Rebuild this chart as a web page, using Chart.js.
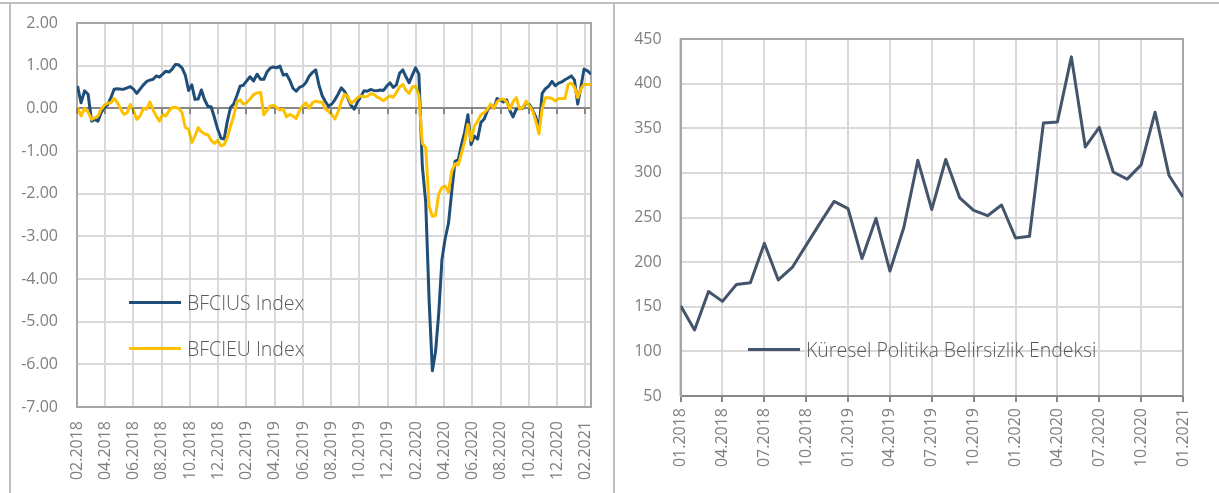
<!DOCTYPE html>
<html><head><meta charset="utf-8">
<script src="https://cdn.jsdelivr.net/npm/chart.js@4.4.1/dist/chart.umd.min.js"></script>
<style>
html,body{margin:0;padding:0;background:#fff;}
body{width:1219px;height:493px;position:relative;overflow:hidden;font-family:"Open Sans",sans-serif;}
.fr{position:absolute;background:#BFBFBF;}
.cv{position:absolute;}
.ov{mix-blend-mode:darken;pointer-events:none;}
.leg{position:absolute;display:flex;align-items:center;height:28px;color:#595959;font-weight:300;white-space:nowrap;font-size:19.5px;}
.leg i{display:inline-block;width:52px;height:3px;margin-right:6px;}
</style></head>
<body>
<div class="fr" style="left:0;top:2px;width:1219px;height:2px"></div>
<div class="fr" style="left:9px;top:2px;width:2px;height:491px"></div>
<div class="fr" style="left:613px;top:2px;width:2px;height:491px"></div>
<div class="cv" style="left:11px;top:5px;width:600px;height:488px"><canvas id="c1" width="600" height="488"></canvas></div>
<div class="cv ov" style="left:11px;top:5px;width:600px;height:488px"><canvas id="c1g" width="600" height="488"></canvas></div>
<div class="cv" style="left:616px;top:5px;width:603px;height:488px"><canvas id="c2" width="603" height="488"></canvas></div>
<div class="leg" style="left:129px;top:288px"><i style="background:#1F4E79"></i><span id="l1"></span></div>
<div class="leg" style="left:129px;top:334px"><i style="background:#FFC000"></i><span id="l2"></span></div>
<div class="leg" style="left:748px;top:335px"><i style="background:#44546A"></i><span id="l3"></span></div>
<script>
// ---------- Left chart data (weekly, first observation 2018-02-02) ----------
const seriesNames = ['BFCIUS Index', 'BFCIEU Index'];
const firstWeek = [2018, 2, 2];
const bfciusValues = [
 0.52, 0.13, 0.41, 0.33, -0.30, -0.26, -0.30, -0.10, 0.02, 0.08,
 0.25, 0.45, 0.46, 0.45, 0.45, 0.48, 0.51, 0.45, 0.35, 0.45,
 0.55, 0.63, 0.66, 0.68, 0.76, 0.73, 0.80, 0.87, 0.85, 0.92,
 1.03, 1.02, 0.95, 0.78, 0.42, 0.55, 0.21, 0.22, 0.43, 0.20,
 0.05, 0.03, -0.22, -0.49, -0.70, -0.72, -0.30, 0.02, 0.10, 0.30,
 0.52, 0.54, 0.64, 0.74, 0.64, 0.80, 0.68, 0.68, 0.85, 0.94,
 0.97, 0.95, 0.99, 0.78, 0.80, 0.66, 0.47, 0.40, 0.49, 0.52,
 0.60, 0.75, 0.84, 0.90, 0.55, 0.30, 0.16, 0.05, 0.10, 0.20,
 0.33, 0.48, 0.40, 0.25, 0.07, -0.02, 0.15, 0.28, 0.41, 0.40,
 0.44, 0.42, 0.41, 0.43, 0.42, 0.52, 0.60, 0.49, 0.55, 0.82,
 0.90, 0.74, 0.60, 0.78, 0.95, 0.80, -1.35, -2.20, -4.50, -6.15,
 -5.70, -4.80, -3.55, -3.05, -2.70, -1.95, -1.24, -1.20, -0.85, -0.55,
 -0.15, -0.85, -0.65, -0.72, -0.33, -0.25, -0.05, 0.08, 0.00, 0.23,
 0.20, 0.15, 0.20, -0.05, -0.20, -0.02, 0.00, 0.00, 0.13, 0.09,
 -0.04, -0.20, -0.50, 0.35, 0.46, 0.52, 0.63, 0.53, 0.59, 0.62,
 0.67, 0.71, 0.76, 0.66, 0.10, 0.50, 0.92, 0.88, 0.80
];
const bfcieuValues = [
 0.02, -0.18, 0.00, -0.09, -0.26, -0.22, -0.18, -0.02, 0.07, 0.12,
 0.13, 0.23, 0.13, -0.02, -0.14, -0.10, 0.09, -0.06, -0.26, -0.18,
 0.00, -0.02, 0.15, -0.04, -0.18, -0.30, -0.14, -0.18, -0.06, 0.02,
 0.02, 0.00, -0.10, -0.45, -0.49, -0.80, -0.65, -0.45, -0.55, -0.60,
 -0.62, -0.75, -0.82, -0.75, -0.88, -0.85, -0.68, -0.42, -0.18, 0.15,
 0.20, 0.10, 0.13, 0.22, 0.32, 0.36, 0.37, -0.15, -0.05, 0.05,
 0.07, 0.02, -0.04, -0.02, -0.20, -0.14, -0.18, -0.24, -0.06, 0.05,
 0.13, 0.00, 0.13, 0.17, 0.15, 0.15, -0.01, -0.07, -0.14, -0.25,
 -0.08, 0.15, 0.33, 0.28, 0.12, 0.17, 0.25, 0.29, 0.27, 0.28,
 0.34, 0.33, 0.27, 0.23, 0.18, 0.24, 0.29, 0.26, 0.37, 0.50,
 0.56, 0.42, 0.35, 0.50, 0.52, 0.30, -0.82, -0.92, -2.30, -2.53,
 -2.51, -2.00, -1.86, -1.82, -1.97, -1.47, -1.30, -1.33, -1.05, -0.78,
 -0.38, -0.75, -0.42, -0.30, -0.15, -0.10, -0.02, 0.10, 0.00, 0.15,
 0.21, 0.22, 0.15, -0.02, 0.15, 0.25, -0.02, 0.02, 0.17, 0.05,
 -0.06, -0.30, -0.60, 0.00, 0.25, 0.25, 0.23, 0.17, 0.23, 0.23,
 0.23, 0.56, 0.59, 0.50, 0.25, 0.45, 0.56, 0.56, 0.56
];
const leftTickLabels = ['02.2018','04.2018','06.2018','08.2018','10.2018','12.2018','02.2019','04.2019','06.2019','08.2019','10.2019','12.2019','02.2020','04.2020','06.2020','08.2020','10.2020','12.2020','02.2021'];
const leftYMin = -7, leftYMax = 2;

// ---------- Right chart data (monthly) ----------
const rightSeriesName = 'Küresel Politika Belirsizlik Endeksi';
const months = ['01.2018','02.2018','03.2018','04.2018','05.2018','06.2018','07.2018','08.2018','09.2018','10.2018','11.2018','12.2018',
 '01.2019','02.2019','03.2019','04.2019','05.2019','06.2019','07.2019','08.2019','09.2019','10.2019','11.2019','12.2019',
 '01.2020','02.2020','03.2020','04.2020','05.2020','06.2020','07.2020','08.2020','09.2020','10.2020','11.2020','12.2020','01.2021'];
const gepuValues = [151, 124, 167, 156, 175, 177, 221, 180, 194, 219, 244, 268,
 260, 204, 249, 190, 239, 314, 259, 315, 272, 258, 252, 264,
 227, 229, 356, 357, 430, 329, 351, 301, 293, 309, 368, 297, 273];

// ---------- helpers: x of the left chart = months elapsed since 02.2018 ----------
function monthsSinceStart(d) {
  const y = d.getUTCFullYear(), m = d.getUTCMonth();
  const dim = new Date(Date.UTC(y, m + 1, 0)).getUTCDate();
  return (y - 2018) * 12 + (m - 1) + (d.getUTCDate() - 1) / dim;
}
const weekX = bfciusValues.map((_, i) => monthsSinceStart(new Date(Date.UTC(firstWeek[0], firstWeek[1] - 1, firstWeek[2] + 7 * i))));
const lastX = weekX[weekX.length - 1];

document.getElementById('l1').textContent = seriesNames[0];
document.getElementById('l2').textContent = seriesNames[1];
document.getElementById('l3').textContent = rightSeriesName;

const TICK = '#7F7F7F';
const GRID = '#D9D9D9';
const FRAME = '#A6A6A6';
const AXIS = '#868686';
const CLEAR = 'rgba(0,0,0,0)';

// plot frame and zero line (horizontal parts), from the chart's scales
const framePlugin = {
  id: 'frame',
  beforeDatasetsDraw(chart, args, opts) {
    const { ctx, chartArea: a } = chart;
    ctx.save();
    if (opts.zeroLine) {
      const y0 = Math.round(chart.scales.y.getPixelForValue(0));
      ctx.fillStyle = AXIS;
      ctx.fillRect(a.left, y0 - 1, a.right - a.left, 2);
    }
    if (opts.zeroTicks) {
      const xs = chart.scales.x;
      const y0 = Math.round(chart.scales.y.getPixelForValue(0));
      ctx.fillStyle = AXIS;
      xs.ticks.forEach(t => { const px = Math.round(xs.getPixelForValue(t.value)); ctx.fillRect(px - 1, y0, 2, 6); });
    }
    if (opts.frame) {
      ctx.strokeStyle = FRAME; ctx.lineWidth = 2;
      ctx.beginPath();
      if (opts.bottom) { ctx.rect(a.left, a.top, a.right - a.left, a.bottom - a.top); }
      else { ctx.moveTo(a.left, a.bottom); ctx.lineTo(a.left, a.top); ctx.lineTo(a.right, a.top); ctx.lineTo(a.right, a.bottom); }
      ctx.stroke();
    }
    ctx.restore();
  }
};
const noPadX = s => { s.paddingLeft = 0; s.paddingRight = 0; };
const noPadY = s => { s.paddingTop = 0; s.paddingBottom = 0; };

Chart.defaults.font.family = '"Open Sans", sans-serif';
Chart.defaults.animation = false;

// shared left-chart scale setup (same layout for the data canvas and its grid overlay)
function leftScales(showLabels, xGrid, yGrid) {
  return {
    x: {
      type: 'linear', min: 0, max: lastX, position: 'bottom',
      afterFit: s => { s.height = 86; noPadX(s); },
      ticks: { stepSize: 2, includeBounds: false, autoSkip: false, minRotation: 90, maxRotation: 90,
        color: showLabels ? TICK : CLEAR, font: { size: 16 }, padding: 14,
        callback: v => leftTickLabels[Math.round(v / 2)] },
      grid: { display: xGrid, color: GRID, lineWidth: 2, drawTicks: false },
      border: { display: showLabels, color: FRAME, width: 2 }
    },
    y: {
      min: leftYMin, max: leftYMax,
      afterFit: s => { s.width = 66; noPadY(s); },
      ticks: { stepSize: 1, color: showLabels ? TICK : CLEAR, font: { size: 16 }, padding: 19, callback: v => v.toFixed(2) },
      grid: { display: yGrid, color: GRID, lineWidth: 2, drawTicks: false },
      border: { display: showLabels, color: FRAME, width: 2 }
    }
  };
}

new Chart(document.getElementById('c1'), {
  type: 'line',
  data: {
    datasets: [
      { label: seriesNames[0], data: bfciusValues.map((v, i) => ({ x: weekX[i], y: v })), borderColor: '#1F4E79', borderWidth: 3, pointRadius: 0, tension: 0, borderJoinStyle: 'round', order: 2 },
      { label: seriesNames[1], data: bfcieuValues.map((v, i) => ({ x: weekX[i], y: v })), borderColor: '#FFC000', borderWidth: 3, pointRadius: 0, tension: 0, borderJoinStyle: 'round', order: 1 }
    ]
  },
  options: {
    responsive: false, animation: false,
    layout: { padding: { left: 0, right: 20, top: 18, bottom: 0 } },
    plugins: { legend: { display: false }, tooltip: { enabled: false }, frame: { frame: true, bottom: true, zeroLine: true } },
    scales: leftScales(true, false, true)
  },
  plugins: [framePlugin]
});

// grid overlay for the left chart: vertical grid lines and zero-line ticks (blended with "darken" so it sits visually behind the lines)
new Chart(document.getElementById('c1g'), {
  type: 'line',
  data: { datasets: [] },
  options: {
    responsive: false, animation: false,
    layout: { padding: { left: 0, right: 20, top: 18, bottom: 0 } },
    plugins: { legend: { display: false }, tooltip: { enabled: false }, frame: { zeroTicks: true } },
    scales: leftScales(false, true, false)
  },
  plugins: [framePlugin]
});

new Chart(document.getElementById('c2'), {
  type: 'line',
  data: {
    datasets: [
      { label: rightSeriesName, data: gepuValues.map((v, i) => ({ x: i, y: v })), borderColor: '#44546A', borderWidth: 3, pointRadius: 0, tension: 0, borderJoinStyle: 'round' }
    ]
  },
  options: {
    responsive: false, animation: false,
    layout: { padding: { left: 0, right: 36, top: 34, bottom: 0 } },
    plugins: { legend: { display: false }, tooltip: { enabled: false }, frame: { frame: true, bottom: false } },
    scales: {
      x: {
        type: 'linear', min: 0, max: months.length - 1,
        afterFit: s => { s.height = 97; noPadX(s); },
        ticks: { stepSize: 3, autoSkip: false, minRotation: 90, maxRotation: 90, color: TICK, font: { size: 16 }, padding: 6,
          callback: v => months[v] },
        grid: { color: GRID, lineWidth: 2, drawTicks: true, tickLength: 6, tickColor: AXIS, tickWidth: 2 },
        border: { display: true, color: AXIS, width: 2 }
      },
      y: {
        min: 50, max: 450,
        afterFit: s => { s.width = 64.6; noPadY(s); },
        ticks: { stepSize: 50, color: TICK, font: { size: 16 }, padding: 19 },
        grid: { color: GRID, lineWidth: 2, drawTicks: false },
        border: { display: true, color: FRAME, width: 2 }
      }
    }
  },
  plugins: [framePlugin]
});
</script>
</body></html>
